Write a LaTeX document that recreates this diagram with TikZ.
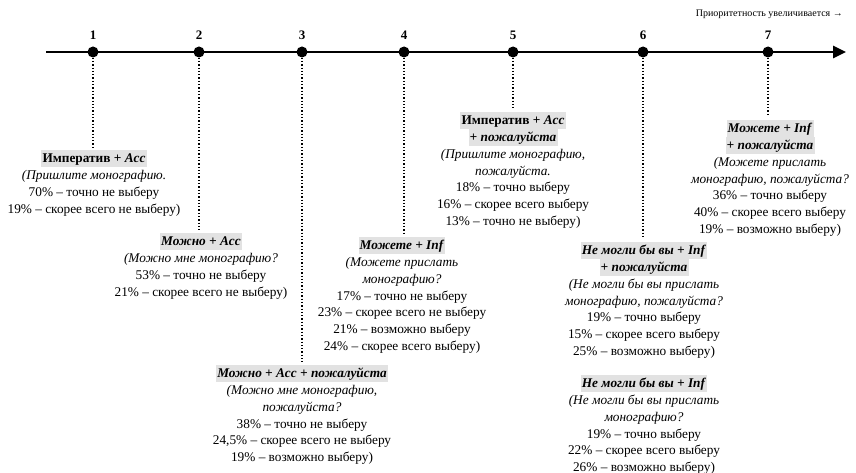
\documentclass[tikz,border=0pt]{standalone}
\usepackage{fontspec}
\setmainfont{Liberation Serif}
\usetikzlibrary{arrows.meta}
\definecolor{hlgray}{HTML}{E2E2E2}
\newcommand{\hlbox}[1]{{\setlength{\fboxsep}{1.2pt}\colorbox{hlgray}{\vphantom{Йу}#1}}}
\begin{document}
\begin{tikzpicture}[x=1pt,y=-1pt,
  dotnode/.style={circle,fill=black,inner sep=0pt,minimum size=11pt},
  numlabel/.style={font=\bfseries\fontsize{13}{15}\selectfont,inner sep=0pt},
  block/.style={anchor=north,align=center,inner sep=0pt,font=\fontsize{13.3}{16.8}\selectfont},
  guide/.style={line width=1.3pt,dotted,shorten >=3pt}
]
\useasboundingbox (0,0) rectangle (856,473);
\draw[line width=2.6pt,-{Triangle[length=13pt,width=12pt]}] (46,52) -- (846,52);
\node[font=\fontsize{10}{12}\selectfont,anchor=east,inner sep=0pt] (prio) at (843,14) {Приоритетность увеличивается →};
\foreach \n/\x in {1/93,2/199,3/302,4/404,5/513,6/643,7/768}{
  \node[dotnode] (d\n) at (\x,52) {};
  \node[numlabel] (n\n) at (\x,35) {\n};
}
\node[block] (b1) at (94,150) {\hlbox{\textbf{Императив + \textit{Acc}}}\\
\textit{(Пришлите монографию.}\\
70\% – точно не выберу\\
19\% – скорее всего не выберу)};
\node[block] (b2) at (201,233) {\hlbox{\textbf{\textit{Можно + Acc}}}\\
\textit{(Можно мне монографию?}\\
53\% – точно не выберу\\
21\% – скорее всего не выберу)};
\node[block] (b3) at (302,365) {\hlbox{\textbf{\textit{Можно + Acc + пожалуйста}}}\\
\textit{(Можно мне монографию,}\\
\textit{пожалуйста?}\\
38\% – точно не выберу\\
24,5\% – скорее всего не выберу\\
19\% – возможно выберу)};
\node[block] (b4) at (402,237) {\hlbox{\textbf{\textit{Можете + Inf}}}\\
\textit{(Можете прислать}\\
\textit{монографию?}\\
17\% – точно не выберу\\
23\% – скорее всего не выберу\\
21\% – возможно выберу\\
24\% – скорее всего выберу)};
\node[block] (b5) at (513,112) {\hlbox{\textbf{Императив + \textit{Acc}}}\\
\hlbox{\textbf{\textit{+ пожалуйста}}}\\
\textit{(Пришлите монографию,}\\
\textit{пожалуйста.}\\
18\% – точно выберу\\
16\% – скорее всего выберу\\
13\% – точно не выберу)};
\node[block] (b6a) at (644,242) {\hlbox{\textbf{\textit{Не могли бы вы + Inf}}}\\
\hlbox{\textbf{\textit{+ пожалуйста}}}\\
\textit{(Не могли бы вы прислать}\\
\textit{монографию, пожалуйста?}\\
19\% – точно выберу\\
15\% – скорее всего выберу\\
25\% – возможно выберу)};
\node[block] (b6b) at (644,375) {\hlbox{\textbf{\textit{Не могли бы вы + Inf}}}\\
\textit{(Не могли бы вы прислать}\\
\textit{монографию?}\\
19\% – точно выберу\\
22\% – скорее всего выберу\\
26\% – возможно выберу)};
\node[block] (b7) at (770,120) {\hlbox{\textbf{\textit{Можете + Inf}}}\\
\hlbox{\textbf{\textit{+ пожалуйста}}}\\
\textit{(Можете прислать}\\
\textit{монографию, пожалуйста?}\\
36\% – точно выберу\\
40\% – скорее всего выберу\\
19\% – возможно выберу)};
\draw[guide] (d1) -- (d1 |- b1.north);
\draw[guide] (d2) -- (d2 |- b2.north);
\draw[guide] (d3) -- (d3 |- b3.north);
\draw[guide] (d4) -- (d4 |- b4.north);
\draw[guide] (d5) -- (d5 |- b5.north);
\draw[guide] (d6) -- (d6 |- b6a.north);
\draw[guide] (d7) -- (d7 |- b7.north);
\end{tikzpicture}
\end{document}
